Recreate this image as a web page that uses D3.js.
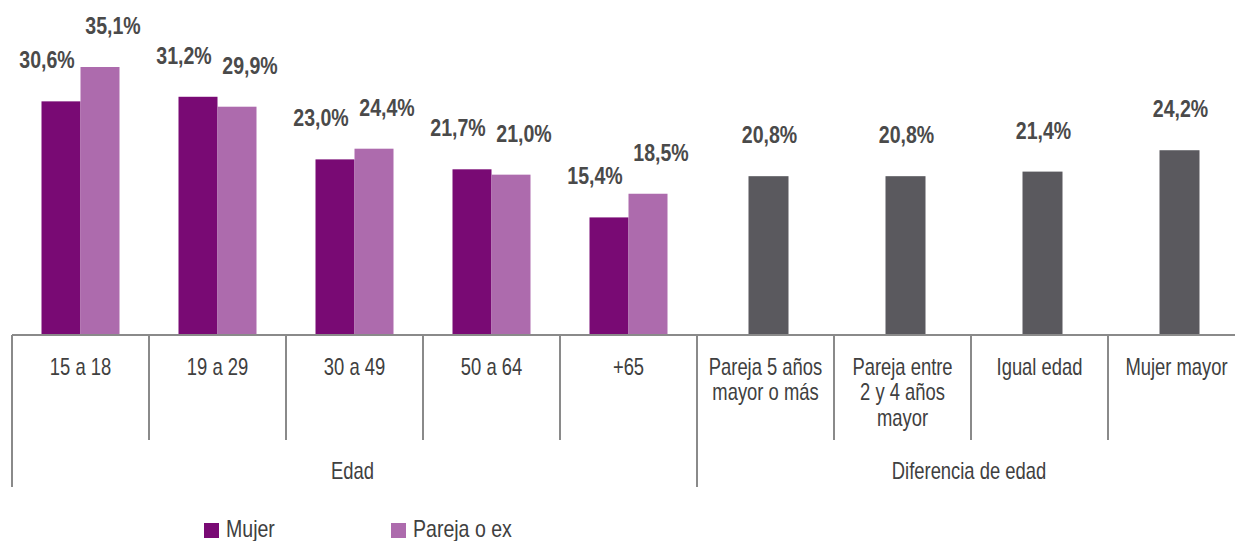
<!DOCTYPE html>
<html>
<head>
<meta charset="utf-8">
<script src="https://cdn.jsdelivr.net/npm/d3@7"></script>
<style>
  html, body { margin: 0; padding: 0; background: #fff; overflow: hidden; }
  svg { display: block; }
  text { font-family: "Liberation Sans", Arial, sans-serif; }
</style>
</head>
<body>
<svg id="chart" width="1235" height="541"></svg>
<script>
// ---- data ----
const categories = ["15 a 18", "19 a 29", "30 a 49", "50 a 64", "+65",
  "Pareja 5 años\nmayor o más", "Pareja entre\n2 y 4 años\nmayor", "Igual edad", "Mujer mayor"];
const groups = ["Edad", "Diferencia de edad"];
const groupSizes = [5, 4];
const seriesNames = ["Mujer", "Pareja o ex"];
const mujerValues = [30.6, 31.2, 23.0, 21.7, 15.4];
const parejaValues = [35.1, 29.9, 24.4, 21.0, 18.5];
const diferenciaValues = [20.8, 20.8, 21.4, 24.2];

const fmt = v => d3.format(".1f")(v).replace(".", ",") + "%";

// ---- layout ----
const W = 1235, H = 541;
const baseY = 335;
const x0 = 12, step = 137;
const colors = { mujer: "#790a74", pareja: "#ad6bad", grey: "#5a595e" };
const labelScale = 0.85, axisScale = 0.8;

const svg = d3.select("#chart");

const x = d3.scaleBand().domain(categories).range([x0, x0 + step * categories.length]).padding(0);
const y = d3.scaleLinear().domain([0, 35.1]).range([baseY, 67]);
const inner = d3.scaleBand().domain(seriesNames).range([0, 78]);

const edadCats = categories.slice(0, groupSizes[0]);
const difCats = categories.slice(groupSizes[0]);

function narrowText(parent, tx, ty, str, size, weight, fill, sx, anchor) {
  return parent.append("text")
    .attr("transform", `translate(${tx},${ty}) scale(${sx},1)`)
    .attr("text-anchor", anchor || "middle")
    .attr("font-size", size)
    .attr("font-weight", weight)
    .attr("fill", fill)
    .text(str);
}

// Edad bars
const edadData = edadCats.map((c, i) => ({ cat: c, vals: [mujerValues[i], parejaValues[i]] }));
const gEdad = svg.append("g");
edadData.forEach(d => {
  const cx = x(d.cat) + x.bandwidth() / 2 - 39;
  d.vals.forEach((v, j) => {
    const s = seriesNames[j];
    gEdad.append("rect")
      .attr("x", cx + inner(s))
      .attr("y", y(v))
      .attr("width", inner.bandwidth())
      .attr("height", baseY - y(v))
      .attr("fill", j === 0 ? colors.mujer : colors.pareja);
    narrowText(gEdad, cx + inner(s) + inner.bandwidth() / 2 + (j === 0 ? -14 : 13), y(v) - 33,
      fmt(v), 23, "bold", "#4a4a4a", labelScale);
  });
});

// Diferencia bars
const gDif = svg.append("g");
difCats.forEach((c, i) => {
  const v = diferenciaValues[i];
  const cx = x(c) + x.bandwidth() / 2 + 3;
  gDif.append("rect")
    .attr("x", cx - 20)
    .attr("y", y(v))
    .attr("width", 40)
    .attr("height", baseY - y(v))
    .attr("fill", colors.grey);
  narrowText(gDif, cx + 1, y(v) - 33, fmt(v), 23, "bold", "#4a4a4a", labelScale);
});

// Axis
const axisColor = "#8a8a8a";
const axis = d3.axisBottom(x).tickSize(0).tickPadding(0);
const gAxis = svg.append("g").attr("transform", `translate(0,${baseY})`).call(axis);
gAxis.select(".domain").remove();
gAxis.append("line").attr("x1", x0).attr("x2", W).attr("y1", 0).attr("y2", 0)
  .attr("stroke", axisColor).attr("stroke-width", 2);
gAxis.selectAll(".tick text")
  .attr("font-size", 23)
  .attr("fill", "#404040")
  .attr("font-family", null)
  .attr("transform", `scale(${axisScale},1)`)
  .each(function(d) {
    const t = d3.select(this);
    const lines = d.split("\n");
    t.text(null).attr("y", 0).attr("dy", null);
    lines.forEach((ln, k) => {
      t.append("tspan").attr("x", 0).attr("y", 40 + k * 25.5).text(ln);
    });
  });

// Dividers
const groupStarts = [0, groupSizes[0], groupSizes[0] + groupSizes[1]];
categories.forEach((c, i) => {
  const xx = x(c);
  const isGroupEdge = groupStarts.includes(i);
  svg.append("line")
    .attr("x1", xx).attr("x2", xx)
    .attr("y1", baseY).attr("y2", isGroupEdge ? 487 : 440)
    .attr("stroke", axisColor).attr("stroke-width", 2);
});

// Group labels
groups.forEach((g, gi) => {
  const a = categories[groupStarts[gi]];
  const b = categories[groupStarts[gi] + groupSizes[gi] - 1];
  const cx = (x(a) + x(b) + x.bandwidth()) / 2;
  narrowText(svg, cx - 2, 479, g, 23, "normal", "#404040", axisScale);
});

// Legend
const legend = [{ name: seriesNames[0], color: colors.mujer, x: 204 }, { name: seriesNames[1], color: colors.pareja, x: 391 }];
legend.forEach(l => {
  svg.append("rect").attr("x", l.x).attr("y", 523).attr("width", 15).attr("height", 15).attr("fill", l.color);
  narrowText(svg, l.x + 22, 537, l.name, 23, "normal", "#404040", 0.85, "start");
});
</script>
</body>
</html>
